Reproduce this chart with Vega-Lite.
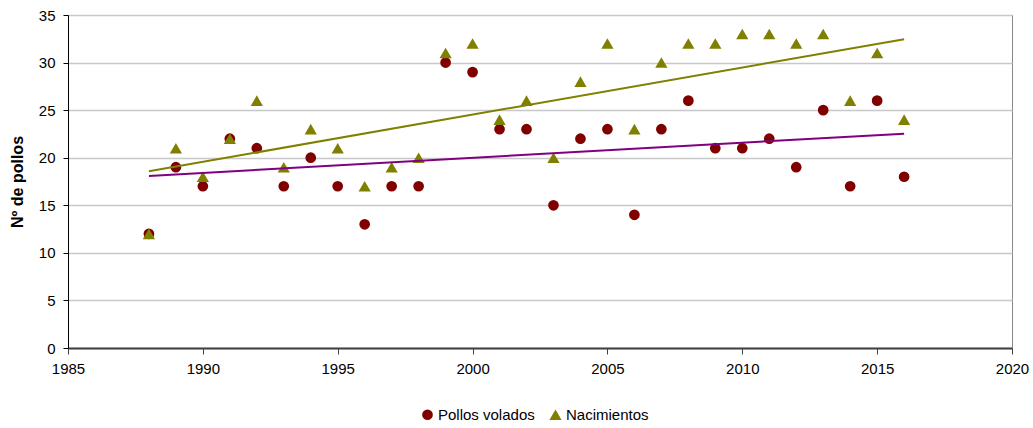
{
  "$schema": "https://vega.github.io/schema/vega-lite/v6.json",
  "autosize": {"type": "none"},
  "padding": {"left": 68, "top": 15, "right": 21, "bottom": 80},
  "width": 944,
  "height": 333,
  "background": "white",
  "config": {
    "font": "Liberation Sans",
    "view": {"stroke": "#888888", "strokeWidth": 1},
    "axis": {"labelFont": "Liberation Sans", "titleFont": "Liberation Sans", "labelFontSize": 15, "labelColor": "#000000"}
  },
  "data": {
    "values": [
      {"year": 1988, "serie": "Pollos volados", "value": 12},
      {"year": 1989, "serie": "Pollos volados", "value": 19},
      {"year": 1990, "serie": "Pollos volados", "value": 17},
      {"year": 1991, "serie": "Pollos volados", "value": 22},
      {"year": 1992, "serie": "Pollos volados", "value": 21},
      {"year": 1993, "serie": "Pollos volados", "value": 17},
      {"year": 1994, "serie": "Pollos volados", "value": 20},
      {"year": 1995, "serie": "Pollos volados", "value": 17},
      {"year": 1996, "serie": "Pollos volados", "value": 13},
      {"year": 1997, "serie": "Pollos volados", "value": 17},
      {"year": 1998, "serie": "Pollos volados", "value": 17},
      {"year": 1999, "serie": "Pollos volados", "value": 30},
      {"year": 2000, "serie": "Pollos volados", "value": 29},
      {"year": 2001, "serie": "Pollos volados", "value": 23},
      {"year": 2002, "serie": "Pollos volados", "value": 23},
      {"year": 2003, "serie": "Pollos volados", "value": 15},
      {"year": 2004, "serie": "Pollos volados", "value": 22},
      {"year": 2005, "serie": "Pollos volados", "value": 23},
      {"year": 2006, "serie": "Pollos volados", "value": 14},
      {"year": 2007, "serie": "Pollos volados", "value": 23},
      {"year": 2008, "serie": "Pollos volados", "value": 26},
      {"year": 2009, "serie": "Pollos volados", "value": 21},
      {"year": 2010, "serie": "Pollos volados", "value": 21},
      {"year": 2011, "serie": "Pollos volados", "value": 22},
      {"year": 2012, "serie": "Pollos volados", "value": 19},
      {"year": 2013, "serie": "Pollos volados", "value": 25},
      {"year": 2014, "serie": "Pollos volados", "value": 17},
      {"year": 2015, "serie": "Pollos volados", "value": 26},
      {"year": 2016, "serie": "Pollos volados", "value": 18},
      {"year": 1988, "serie": "Nacimientos", "value": 12},
      {"year": 1989, "serie": "Nacimientos", "value": 21},
      {"year": 1990, "serie": "Nacimientos", "value": 18},
      {"year": 1991, "serie": "Nacimientos", "value": 22},
      {"year": 1992, "serie": "Nacimientos", "value": 26},
      {"year": 1993, "serie": "Nacimientos", "value": 19},
      {"year": 1994, "serie": "Nacimientos", "value": 23},
      {"year": 1995, "serie": "Nacimientos", "value": 21},
      {"year": 1996, "serie": "Nacimientos", "value": 17},
      {"year": 1997, "serie": "Nacimientos", "value": 19},
      {"year": 1998, "serie": "Nacimientos", "value": 20},
      {"year": 1999, "serie": "Nacimientos", "value": 31},
      {"year": 2000, "serie": "Nacimientos", "value": 32},
      {"year": 2001, "serie": "Nacimientos", "value": 24},
      {"year": 2002, "serie": "Nacimientos", "value": 26},
      {"year": 2003, "serie": "Nacimientos", "value": 20},
      {"year": 2004, "serie": "Nacimientos", "value": 28},
      {"year": 2005, "serie": "Nacimientos", "value": 32},
      {"year": 2006, "serie": "Nacimientos", "value": 23},
      {"year": 2007, "serie": "Nacimientos", "value": 30},
      {"year": 2008, "serie": "Nacimientos", "value": 32},
      {"year": 2009, "serie": "Nacimientos", "value": 32},
      {"year": 2010, "serie": "Nacimientos", "value": 33},
      {"year": 2011, "serie": "Nacimientos", "value": 33},
      {"year": 2012, "serie": "Nacimientos", "value": 32},
      {"year": 2013, "serie": "Nacimientos", "value": 33},
      {"year": 2014, "serie": "Nacimientos", "value": 26},
      {"year": 2015, "serie": "Nacimientos", "value": 31},
      {"year": 2016, "serie": "Nacimientos", "value": 24}
    ]
  },
  "encoding": {
    "x": {
      "field": "year", "type": "quantitative",
      "scale": {"domain": [1985, 2020], "nice": false, "zero": false},
      "axis": {"title": null, "values": [1985, 1990, 1995, 2000, 2005, 2010, 2015, 2020], "format": "d", "grid": false, "domainColor": "#404040", "domainWidth": 2, "tickColor": "#404040", "tickSize": 6, "labelPadding": 7, "labelFlush": false}
    },
    "y": {
      "field": "value", "type": "quantitative",
      "scale": {"domain": [0, 35], "nice": false},
      "axis": {"title": "Nº de pollos", "titleFontSize": 16, "titleFontWeight": "bold", "titleColor": "#000000", "titlePadding": 13, "values": [0, 5, 10, 15, 20, 25, 30, 35], "grid": true, "gridColor": "#c8c8c8", "gridWidth": 1.5, "domainColor": "#000000", "tickColor": "#000000", "tickSize": 5, "labelPadding": 8}
    }
  },
  "layer": [
    {
      "mark": {"type": "point", "filled": true, "opacity": 1},
      "encoding": {
        "color": {
          "field": "serie", "type": "nominal",
          "scale": {"domain": ["Pollos volados", "Nacimientos"], "range": ["#800000", "#808000"]},
          "legend": {"title": null, "orient": "none", "direction": "horizontal", "legendX": 352, "legendY": 392, "labelFontSize": 15, "labelFont": "Liberation Sans", "labelColor": "#000000", "symbolSize": 60, "columnPadding": 13, "labelOffset": 3}
        },
        "shape": {
          "field": "serie", "type": "nominal",
          "scale": {"domain": ["Pollos volados", "Nacimientos"], "range": ["circle", "triangle-up"]},
          "legend": null
        },
        "size": {
          "field": "serie", "type": "nominal",
          "scale": {"domain": ["Pollos volados", "Nacimientos"], "range": [115, 150]},
          "legend": null
        }
      }
    },
    {
      "transform": [
        {"filter": "datum.serie === 'Nacimientos'"},
        {"regression": "value", "on": "year", "extent": [1988, 2016]}
      ],
      "mark": {"type": "line", "color": "#808000", "strokeWidth": 2},
      "encoding": {}
    },
    {
      "transform": [
        {"filter": "datum.serie === 'Pollos volados'"},
        {"regression": "value", "on": "year", "extent": [1988, 2016]}
      ],
      "mark": {"type": "line", "color": "#800080", "strokeWidth": 2},
      "encoding": {}
    }
  ]
}
